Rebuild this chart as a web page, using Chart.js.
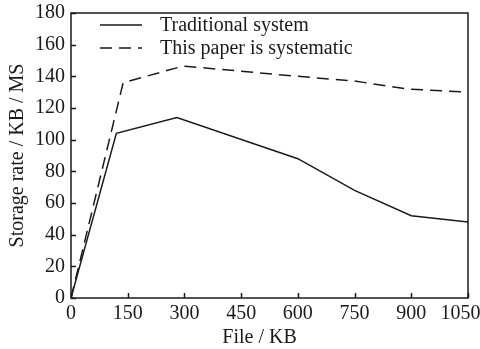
<!DOCTYPE html>
<html>
<head>
<meta charset="utf-8">
<script src="https://cdn.jsdelivr.net/npm/chart.js@4"></script>
<style>
  html, body { margin: 0; padding: 0; background: #fff; }
  #wrap { width: 480px; height: 349px; }
</style>
</head>
<body>
<div id="wrap"><canvas id="chart" width="480" height="349"></canvas></div>
<script>
// ============================
// DATA
// ============================
const xTicks = [0, 150, 300, 450, 600, 750, 900, 1050];
const yTicks = [0, 20, 40, 60, 80, 100, 120, 140, 160, 180];

const tradFile = [0, 120, 280, 600, 750, 900, 1050];
const tradRate = [0, 104, 114, 88, 68, 52, 48];

const oursFile = [0, 138, 297, 600, 750, 890, 1050];
const oursRate = [0, 136, 146.5, 140, 137, 132, 130];

const seriesNames = ["Traditional system", "This paper is systematic"];

const FONT = "'Liberation Serif', 'Times New Roman', serif";
const INK = "#1a1a1a";

function toPoints(xs, ys) {
  return xs.map((x, i) => ({ x: x, y: ys[i] }));
}

// ============================
// FRAME, INWARD TICKS, LEGEND
// ============================
const framePlugin = {
  id: "frame",
  afterDraw(chart) {
    const ctx = chart.ctx;
    const a = chart.chartArea;
    const xs = chart.scales.x;
    const ys = chart.scales.y;
    ctx.save();
    ctx.strokeStyle = INK;
    ctx.lineWidth = 1.5;
    ctx.strokeRect(a.left, a.top, a.right - a.left, a.bottom - a.top);

    // inward tick marks
    ctx.beginPath();
    xTicks.forEach(v => {
      const px = Math.round(xs.getPixelForValue(v)) + 0.5;
      ctx.moveTo(px, a.bottom);
      ctx.lineTo(px, a.bottom - 5);
    });
    yTicks.forEach(v => {
      const py = Math.round(ys.getPixelForValue(v)) + 0.5;
      ctx.moveTo(a.left, py);
      ctx.lineTo(a.left + 5, py);
    });
    ctx.stroke();

    // legend inside the plot
    chart.data.datasets.forEach((ds, i) => {
      const y = 25 + i * 23;
      ctx.beginPath();
      ctx.setLineDash(ds.borderDash || []);
      ctx.lineWidth = ds.borderWidth;
      ctx.strokeStyle = ds.borderColor;
      ctx.moveTo(100, y);
      ctx.lineTo(142, y);
      ctx.stroke();
      ctx.setLineDash([]);
      ctx.fillStyle = INK;
      ctx.font = "20px " + FONT;
      ctx.textBaseline = "middle";
      ctx.textAlign = "left";
      ctx.fillText(ds.label, 160, y + 1);
    });
    ctx.restore();
  }
};

// ============================
// CHART
// ============================
const ctx = document.getElementById("chart").getContext("2d");

new Chart(ctx, {
  type: "line",
  data: {
    datasets: [
      {
        label: seriesNames[0],
        data: toPoints(tradFile, tradRate),
        borderColor: INK,
        borderWidth: 1.5,
        pointRadius: 0,
        tension: 0,
        fill: false
      },
      {
        label: seriesNames[1],
        data: toPoints(oursFile, oursRate),
        borderColor: INK,
        borderWidth: 1.5,
        borderDash: [12, 7],
        pointRadius: 0,
        tension: 0,
        fill: false
      }
    ]
  },
  options: {
    responsive: false,
    animation: false,
    events: [],
    layout: { padding: { top: 13, right: 12, left: 0, bottom: 0 } },
    plugins: {
      legend: { display: false },
      tooltip: { enabled: false }
    },
    scales: {
      x: {
        type: "linear",
        min: 0,
        max: 1050,
        afterFit: (s) => { s.height = 51; s.paddingLeft = 0; s.paddingRight = 0; },
        afterBuildTicks: (s) => { s.ticks = xTicks.map(v => ({ value: v })); },
        grid: { display: false, drawTicks: false },
        border: { display: false },
        ticks: {
          color: INK,
          padding: 4,
          maxRotation: 0,
          autoSkip: false,
          // last label is pushed left a little so it stays on the canvas
          callback: (v) => (v === 1050 ? "1050   " : String(v)),
          font: { family: FONT, size: 20 }
        },
        title: {
          display: true,
          text: "File / KB    ",
          color: INK,
          padding: { top: 0, bottom: 0 },
          font: { family: FONT, size: 20, lineHeight: 1.1 }
        }
      },
      y: {
        min: 0,
        max: 180,
        afterFit: (s) => { s.width = 71; s.paddingTop = 0; s.paddingBottom = 0; },
        afterBuildTicks: (s) => { s.ticks = yTicks.map(v => ({ value: v })); },
        grid: { display: false, drawTicks: false },
        border: { display: false },
        ticks: {
          color: INK,
          padding: 6,
          autoSkip: false,
          callback: (v) => String(v),
          font: { family: FONT, size: 20 }
        },
        title: {
          display: true,
          text: "Storage rate / KB / MS",
          color: INK,
          padding: { top: 6, bottom: 0 },
          font: { family: FONT, size: 20 }
        }
      }
    }
  },
  plugins: [framePlugin]
});
</script>
</body>
</html>
